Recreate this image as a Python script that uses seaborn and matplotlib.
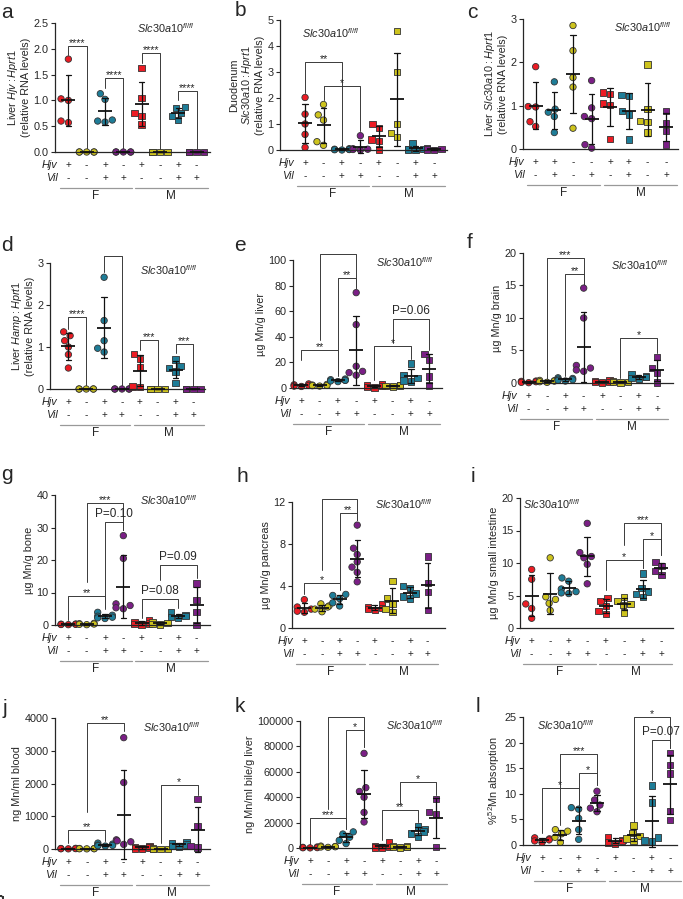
import numpy as np
import pandas as pd
import matplotlib
matplotlib.use('Agg')
import matplotlib.pyplot as plt
import matplotlib.transforms as mtrans
from matplotlib.ticker import FormatStrFormatter
import seaborn as sns
import warnings

warnings.filterwarnings('ignore')

# groups: 4 female genotypes then 4 male genotypes
groups = ['F1', 'F2', 'F3', 'F4', 'M1', 'M2', 'M3', 'M4']
hjv_std = ['+', '-', '+', '-', '+', '-', '+', '-']
vil_std = ['-', '-', '+', '+', '-', '-', '+', '+']
hjv_c = ['+', '+', '-', '-', '+', '+', '-', '-']
vil_c = ['-', '+', '-', '+', '-', '+', '-', '+']

red, yel, teal, purp = '#ec1c24', '#cdc31d', '#1e7d98', '#7b1f86'
cols_std = [red, yel, teal, purp] * 2
cols_c = [red, teal, yel, purp] * 2

# values (one list per group)
liver_hjv = [[1.8, 1.03, 1.0, 0.6, 0.57], [0, 0, 0, 0, 0],
             [1.13, 1.02, 0.62, 0.58, 0.6], [0, 0, 0, 0, 0],
             [1.63, 1.05, 0.75, 0.7, 0.53], [0, 0, 0, 0],
             [0.87, 0.85, 0.75, 0.7, 0.62], [0, 0, 0, 0]]
duod_slc = [[2.02, 1.38, 1.0, 0.6, 0.1], [1.75, 1.35, 1.15, 0.32, 0.18],
            [0.05, 0.03, 0.02, 0.01, 0.0, 0.02], [0.55, 0.05, 0.03, 0.02, 0.0],
            [1.0, 0.85, 0.4, 0.35, 0.02], [4.58, 3.0, 1.0, 0.65, 0.5],
            [0.25, 0.05, 0.03, 0.02, 0.0], [0.08, 0.05, 0.02, 0.01]]
liver_slc = [[1.9, 0.98, 0.97, 0.63, 0.52], [1.55, 0.92, 0.85, 0.75, 0.38],
             [2.85, 2.27, 1.65, 1.43, 0.48], [1.58, 0.95, 0.75, 0.7, 0.1, 0.02],
             [1.3, 1.27, 1.05, 1.02, 0.23], [1.25, 1.22, 0.88, 0.8, 0.22],
             [1.95, 0.92, 0.65, 0.62, 0.38], [0.87, 0.6, 0.42, 0.1]]
liver_hamp = [[1.36, 1.27, 1.15, 1.0, 0.82, 0.5], [0, 0, 0, 0, 0],
              [2.66, 1.63, 1.15, 0.97, 0.88], [0, 0, 0, 0, 0],
              [0.83, 0.72, 0.53, 0.06, 0.05], [0, 0, 0, 0],
              [0.7, 0.55, 0.5, 0.42, 0.15], [0, 0, 0, 0]]
mn_liver = [[3.2, 2.5, 2.0, 1.5, 1.2], [2.8, 2.3, 2.0, 1.8, 1.5],
            [7.0, 6.5, 6.0, 5.5, 5.0, 6.0], [74.5, 49.5, 17.0, 13.0, 12.0, 10.0],
            [3.0, 2.0, 1.5, 1.0, 0.5], [2.5, 2.0, 1.8, 1.2],
            [19.0, 10.0, 8.0, 6.0, 5.0], [26.5, 22.0, 9.0, 2.0]]
mn_brain = [[0.3, 0.25, 0.2, 0.1, 0.05], [0.4, 0.35, 0.3, 0.2, 0.1],
            [0.8, 0.7, 0.6, 0.5, 0.4, 0.3], [14.6, 10.0, 2.7, 2.3, 2.0, 1.8],
            [0.4, 0.3, 0.2, 0.15, 0.05], [0.3, 0.2, 0.15, 0.1],
            [1.3, 1.0, 0.9, 0.8, 0.6], [4.0, 2.3, 1.5, 0.1]]
mn_bone = [[0.3, 0.25, 0.2, 0.15, 0.1], [0.5, 0.4, 0.3, 0.2, 0.1],
           [3.9, 3.0, 2.7, 2.4, 2.2, 2.0], [27.5, 20.5, 6.5, 6.0, 5.3, 5.0],
           [1.5, 0.8, 0.5, 0.3, 0.1], [1.0, 0.7, 0.4, 0.2],
           [3.8, 3.0, 2.8, 2.5, 2.2], [12.8, 7.6, 4.0, 0.0]]
mn_pancreas = [[2.7, 2.0, 1.8, 1.6, 1.5], [2.3, 2.1, 2.0, 1.8, 1.55],
               [3.2, 3.1, 2.8, 2.4, 2.1], [9.8, 7.6, 7.0, 6.3, 5.8, 5.3, 4.4],
               [2.3, 2.0, 1.9, 1.8, 1.7], [4.5, 2.8, 2.3, 1.8, 1.5],
               [4.0, 3.8, 3.3, 3.0, 2.8], [6.8, 4.3, 3.4, 1.7]]
mn_intestine = [[9.0, 7.5, 3.7, 3.0, 1.5], [10.8, 4.8, 4.4, 3.8, 2.7],
                [7.7, 7.2, 6.0, 5.6, 5.4, 5.3], [16.1, 11.6, 11.0, 10.8, 9.8, 6.8],
                [4.6, 4.2, 3.4, 2.6, 2.2], [4.8, 4.2, 3.7, 3.5, 2.4],
                [8.4, 6.2, 5.6, 5.2, 4.8], [10.2, 9.5, 8.8, 8.2]]
mn_blood = [[20, 15, 12, 8, 5], [15, 12, 10, 8, 5],
            [180, 150, 120, 110, 100, 90], [3400, 2030, 280, 250, 220, 140],
            [100, 60, 40, 20, 10], [10, 8, 5, 3],
            [220, 170, 140, 100, 80], [1530, 700, 100, 40]]
mn_bile = [[800, 500, 300, 200, 100], [1500, 1200, 1000, 800, 500],
           [12700, 11000, 8500, 6000, 3500], [74500, 47500, 44500, 40000, 28000, 20500],
           [4500, 1500, 800, 400, 200], [1500, 1200, 1000, 800, 500],
           [17000, 15000, 13000, 11500, 9000], [38500, 28500, 27000, 1000]]
mn_absorb = [[1.4, 1.2, 1.0, 0.8, 0.5], [3.0, 2.7, 2.2, 1.5, 0.5],
             [7.3, 7.0, 5.2, 3.0, 1.1], [10.5, 8.8, 7.8, 7.2, 6.5],
             [1.5, 1.0, 0.8, 0.5, 0.2], [3.8, 2.3, 1.7, 1.3, 0.8],
             [11.6, 8.3, 1.5, 0.9, 0.7], [18.0, 15.6, 14.0, 6.6, 4.9]]

# significance brackets: (group i, group j, height, label, leg end i, leg end j)
br_a = [(0, 1, 2.06, '****', 1.88, 0.04), (2, 3, 1.43, '****', 1.25, 0.04),
        (4, 5, 1.91, '****', 1.72, 0.04), (6, 7, 1.19, '****', 1.0, 0.04)]
br_b = [(0, 2, 3.4, '**', 2.2, 0.15), (1, 3, 2.46, '*', 1.92, 0.74)]
br_d = [(0, 1, 1.72, '****', 1.44, 0.05), (2, 3, 3.17, '****', 2.79, 0.05),
        (4, 5, 1.16, '***', 0.93, 0.05), (6, 7, 1.08, '***', 0.86, 0.05)]
br_e = [(0, 2, 29.9, '**', 22, 9), (1, 3, 105, '****', 37.7, 78), (2, 3, 85.7, '**', 11.7, 78),
        (4, 6, 32.5, '*', 6, 23), (5, 7, 54, 'P=0.06', 35, 30)]
br_f = [(1, 3, 19.2, '***', 0.5, 15.1), (2, 3, 16.7, '**', 1.0, 15.1), (5, 7, 6.9, '*', 0.8, 4.6)]
br_g = [(0, 2, 8.9, '**', 1.5, 4.8), (1, 3, 37.4, '***', 13.3, 29.2), (2, 3, 31.8, 'P=0.10', 5.6, 29.2),
        (4, 6, 7.9, 'P=0.08', 2.1, 5.1), (5, 7, 18.5, 'P=0.09', 13.8, 14.4)]
br_h = [(0, 2, 4.29, '*', 3.27, 3.65), (1, 3, 12.3, '****', 5.5, 10.25), (2, 3, 11.0, '**', 3.75, 10.25)]
br_i = [(4, 6, 10.5, '*', 5.9, 9.2), (5, 7, 16.2, '***', 12.8, 11.3), (6, 7, 13.7, '*', 9.2, 11.3)]
br_j = [(0, 2, 582, '**', 180, 250), (1, 3, 3847, '**', 1143, 3592), (5, 7, 1959, '*', 173, 1653)]
br_k = [(0, 2, 23600, '***', 2100, 15200), (1, 3, 103100, '****', 31000, 79500),
        (2, 3, 92600, '*', 15200, 79500), (4, 6, 29700, '**', 6000, 20500),
        (5, 7, 52000, '*', 35000, 41500)]
br_l = [(0, 2, 11.2, '*', 2.3, 7.5), (1, 3, 17.7, '***', 3.9, 11.7), (2, 3, 14.0, '*', 7.8, 11.7),
        (5, 7, 25.0, '*', 4.5, 19.0), (6, 7, 20.5, 'P=0.07', 12.7, 19.0)]

rna = '\n(relative RNA levels)'
panels = [
    dict(letter='a', vals=liver_hjv, br=br_a, ymax=2.5, step=0.5, fmt='%.1f',
         ylab=r'Liver $\mathit{Hjv{:}Hprt1}$' + rna, box=(55, 210, 23, 152),
         xlim=(-0.73, 7.73), slc=(0.9, 0.96, 'right'), lpos=(7, 12)),
    dict(letter='b', vals=duod_slc, br=br_b, ymax=5, step=1, fmt='%d',
         ylab='Duodenum\n' + r'$\mathit{Slc30a10{:}Hprt1}$' + rna, box=(280, 447, 20, 150),
         xlim=(-1.36, 7.7), slc=(0.13, 0.9, 'left'), lpos=(240, 10)),
    dict(letter='c', vals=liver_slc, br=[], ymax=3, step=1, fmt='%d', c=True,
         ylab=r'Liver $\mathit{Slc30a10{:}Hprt1}$' + rna, box=(523, 678, 19, 149),
         xlim=(-0.68, 7.63), slc=(0.96, 0.94, 'right'), lpos=(472, 12)),
    dict(letter='d', vals=liver_hamp, br=br_d, ymax=3, step=1, fmt='%d',
         ylab=r'Liver $\mathit{Hamp{:}Hprt1}$' + rna, box=(50, 205, 263, 389),
         xlim=(-1.03, 7.65), slc=(0.95, 0.94, 'right'), lpos=(7, 245)),
    dict(letter='e', vals=mn_liver, br=br_e, ymax=100, step=20, fmt='%d',
         ylab='µg Mn/g liver', box=(293, 442, 260, 388),
         xlim=(-0.46, 7.7), slc=(0.94, 0.98, 'right'), lpos=(240, 245)),
    dict(letter='f', vals=mn_brain, br=br_f, ymax=20, step=5, fmt='%d',
         ylab='µg Mn/g brain', box=(523, 673, 253, 383),
         xlim=(-0.31, 7.87), slc=(0.97, 0.91, 'right'), lpos=(470, 243)),
    dict(letter='g', vals=mn_bone, br=br_g, ymax=40, step=10, fmt='%d',
         ylab='µg Mn/g bone', box=(55, 210, 495, 625),
         xlim=(-0.73, 7.73), slc=(0.92, 0.96, 'right'), lpos=(7, 475)),
    dict(letter='h', vals=mn_pancreas, br=br_h, ymax=12, step=4, fmt='%d',
         ylab='µg Mn/g pancreas', box=(292, 445, 502, 628),
         xlim=(-0.7, 7.98), slc=(0.92, 0.98, 'right'), lpos=(242, 477)),
    dict(letter='i', vals=mn_intestine, br=br_i, ymax=20, step=5, fmt='%d',
         ylab='µg Mn/g small intestine', box=(520, 673, 498, 628),
         xlim=(-0.63, 7.63), slc=(0.02, 0.95, 'left'), lpos=(473, 477)),
    dict(letter='j', vals=mn_blood, br=br_j, ymax=4000, step=1000, fmt='%d',
         ylab='ng Mn/ml blood', box=(55, 210, 718, 849),
         xlim=(-0.72, 7.67), slc=(0.94, 0.93, 'right'), lpos=(5, 708)),
    dict(letter='k', vals=mn_bile, br=br_k, ymax=100000, step=20000, fmt='%d',
         ylab='ng Mn/ml bile/g liver', box=(300, 445, 721, 848),
         xlim=(-0.56, 7.5), slc=(0.99, 0.97, 'right'), lpos=(240, 707)),
    dict(letter='l', vals=mn_absorb, br=br_l, ymax=25, step=5, fmt='%d',
         ylab=r'%$^{52}$Mn absorption', box=(523, 677, 717, 845),
         xlim=(-1.04, 7.37), slc=(0.09, 0.94, 'left'), lpos=(478, 707)),
]

sns.set_style('ticks')
plt.rcParams['font.family'] = ['Liberation Sans', 'DejaVu Sans']
plt.rcParams['mathtext.fontset'] = 'custom'
plt.rcParams['mathtext.rm'] = 'Liberation Sans'
plt.rcParams['mathtext.it'] = 'Liberation Sans:italic'
plt.rcParams['mathtext.bf'] = 'Liberation Sans:bold'

W, H = 683, 899
fig = plt.figure(figsize=(W / 100, H / 100), dpi=100)

for p in panels:
    l, r, t, y0 = p['box']
    ax = fig.add_axes([l / W, 1 - y0 / H, (r - l) / W, (y0 - t) / H])
    is_c = p.get('c', False)
    cols = cols_c if is_c else cols_std
    hjv = hjv_c if is_c else hjv_std
    vil = vil_c if is_c else vil_std
    pal = dict(zip(groups, cols))

    df = pd.DataFrame([(g, v) for g, vs in zip(groups, p['vals']) for v in vs],
                      columns=['grp', 'val'])

    for sex, mk in (('F', 'o'), ('M', 's')):
        sub = df[df['grp'].str.startswith(sex)]
        sns.swarmplot(data=sub, x='grp', y='val', hue='grp', order=groups, palette=pal,
                      marker=mk, size=4.6, edgecolor='#333333', linewidth=0.6,
                      legend=False, ax=ax, zorder=2)

    n_lines = len(ax.lines)
    sns.pointplot(data=df, x='grp', y='val', order=groups, errorbar='sd', color='#111111',
                  markers='_', markersize=9.5, markeredgewidth=1.3, linestyle='none',
                  capsize=0.3, err_kws={'linewidth': 0.9}, ax=ax)
    for ln in ax.lines[n_lines:]:
        ln.set_zorder(4)
        ln.set_clip_on(False)
    for coll in ax.collections:
        coll.set_clip_on(False)

    ax.set_xlim(*p['xlim'])
    ax.set_ylim(0, p['ymax'])
    ax.set_yticks(np.arange(0, p['ymax'] + p['step'] / 2, p['step']))
    ax.yaxis.set_major_formatter(FormatStrFormatter(p['fmt']))
    ax.tick_params(axis='y', length=3, width=0.8, labelsize=7.8, pad=1.5)
    ax.tick_params(axis='x', length=0, labelbottom=False)
    ax.set_xlabel('')
    ax.set_ylabel(p['ylab'], fontsize=7.8, labelpad=2, linespacing=1.1)
    sns.despine(ax=ax)
    for s in ('left', 'bottom'):
        ax.spines[s].set_linewidth(0.9)

    # brackets
    for i, j, y, lab, lo_i, lo_j in p['br']:
        ax.plot([i, i, j, j], [lo_i, y, y, lo_j], color='#3a3a3a', lw=0.7,
                clip_on=False, zorder=1)
        if lab.startswith('P'):
            ax.annotate(lab, ((i + j) / 2, y), xytext=(0, 1.5), textcoords='offset points',
                        ha='center', va='bottom', fontsize=8.5)
        else:
            ax.annotate(lab, ((i + j) / 2, y), xytext=(0, -1.5), textcoords='offset points',
                        ha='center', va='bottom', fontsize=7.8)

    # genotype table under the axis
    for k in range(8):
        ax.annotate(hjv[k], (k, 0), xycoords=('data', 'axes fraction'), xytext=(0, -9.5),
                    textcoords='offset points', ha='center', va='center', fontsize=7.2)
        ax.annotate(vil[k], (k, 0), xycoords=('data', 'axes fraction'), xytext=(0, -19),
                    textcoords='offset points', ha='center', va='center', fontsize=7.2)
    for name, dy in (('Hjv', -9.5), ('Vil', -19)):
        ax.annotate(name, (-0.6, 0), xycoords=('data', 'axes fraction'), xytext=(0, dy),
                    textcoords='offset points', ha='right', va='center', fontsize=7.8,
                    style='italic')
    trans = mtrans.offset_copy(ax.get_xaxis_transform(), fig=fig, y=-26, units='points')
    for x1, x2, sex in ((-0.45, 3.45, 'F'), (3.65, 7.6, 'M')):
        ax.plot([x1, x2], [0, 0], transform=trans, color='#999999', lw=0.9, clip_on=False)
        ax.annotate(sex, ((x1 + x2) / 2, 0), xycoords=('data', 'axes fraction'),
                    xytext=(0, -32), textcoords='offset points', ha='center', va='center',
                    fontsize=8.5)

    sx, sy, ha = p['slc']
    ax.text(sx, sy, r'$\mathit{Slc30a10}^{\mathit{fl/fl}}$', transform=ax.transAxes,
            ha=ha, va='center', fontsize=7.8)

    lx, ly = p['lpos']
    fig.text(lx / W, 1 - ly / H, p['letter'], ha='center', va='center', fontsize=15)

# hide any stray artist that ends up in the bottom-left corner of the figure
fig.canvas.draw()
rend = fig.canvas.get_renderer()
for art in fig.findobj():
    if art is fig or art is fig.patch:
        continue
    try:
        bb = art.get_window_extent(rend)
    except Exception:
        continue
    if bb.width > 0 and bb.x1 < 25 and bb.y1 < 20:
        art.set_visible(False)

fig.savefig('out.png', dpi=100)
